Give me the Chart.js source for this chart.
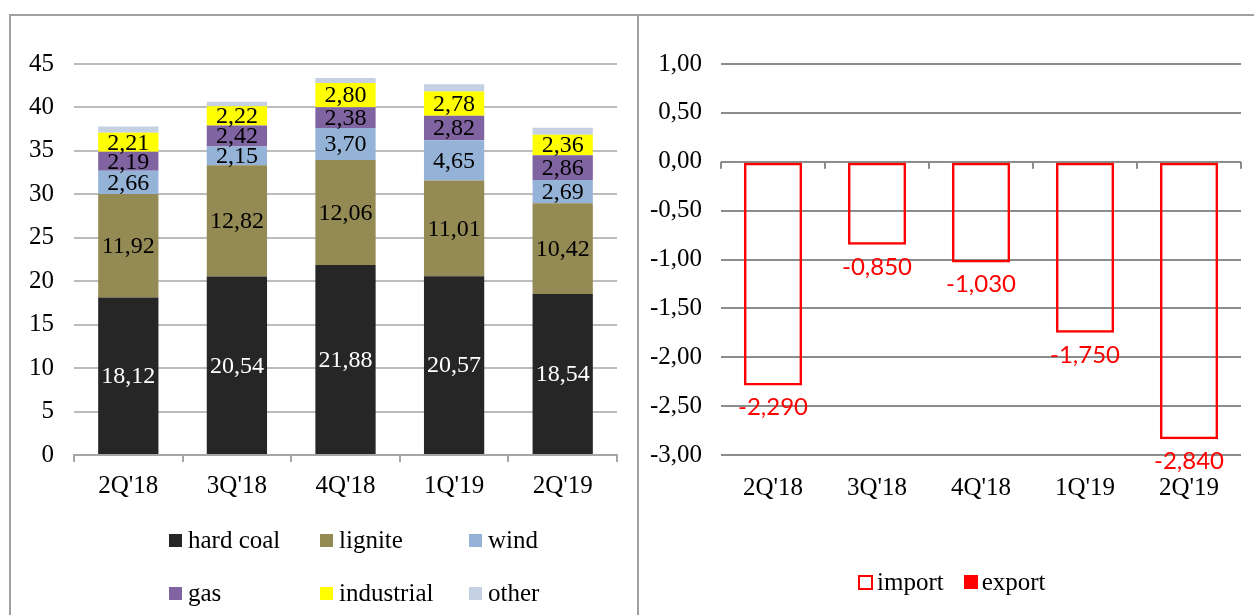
<!DOCTYPE html>
<html>
<head>
<meta charset="utf-8">
<script src="https://cdn.jsdelivr.net/npm/chart.js@4.4.1/dist/chart.umd.min.js"></script>
<style>
    body { margin: 0; background: #fff; width: 1254px; height: 615px; overflow: hidden; position: relative; }
    .marco-sup { position: absolute; left: 9px; top: 14px; width: 1245px; height: 2px; background: #a0a0a0; }
    .marco-izq { position: absolute; left: 9px; top: 14px; width: 2px; height: 601px; background: #a0a0a0; }
    .divisor { position: absolute; left: 637px; top: 14px; width: 2px; height: 601px; background: #a0a0a0; }
    #grafico1 { position: absolute; left: 10px; top: 15px; }
    #grafico2 { position: absolute; left: 640px; top: 15px; }
    .leyenda { position: absolute; font-family: "Liberation Serif", serif; font-size: 25px; color: #000; }
    .leyenda .item { display: flex; align-items: center; height: 30px; white-space: nowrap; }
    .leyenda .caja { width: 13px; height: 13px; margin-right: 6px; box-sizing: border-box; }
    #leyenda1 { left: 169px; top: 525px; display: grid; grid-template-columns: 151px 149px 150px; row-gap: 23px; }
    #leyenda2 { left: 858px; top: 567px; display: flex; }
    #leyenda2 .caja { width: 15px; height: 15px; margin-right: 4px; }
    #leyenda2 .item { margin-right: 20px; }
</style>
</head>
<body>
<div class="marco-sup"></div>
<div class="marco-izq"></div>
<div class="divisor"></div>
<canvas id="grafico1" width="628" height="600"></canvas>
<canvas id="grafico2" width="614" height="600"></canvas>
<div class="leyenda" id="leyenda1"></div>
<div class="leyenda" id="leyenda2"></div>
<script>
// Datos de los gráficos
const trimestres = ["2Q'18", "3Q'18", "4Q'18", "1Q'19", "2Q'19"];

const hardCoal   = [18.12, 20.54, 21.88, 20.57, 18.54];
const lignite    = [11.92, 12.82, 12.06, 11.01, 10.42];
const wind       = [2.66, 2.15, 3.70, 4.65, 2.69];
const gas        = [2.19, 2.42, 2.38, 2.82, 2.86];
const industrial = [2.21, 2.22, 2.80, 2.78, 2.36];
const other      = [0.70, 0.50, 0.58, 0.85, 0.80];

const importVals = [-2.29, -0.85, -1.03, -1.75, -2.84];
const exportVals = [0, 0, 0, 0, 0];

const ticksIzq = [0, 5, 10, 15, 20, 25, 30, 35, 40, 45];
const ticksDer = [1, 0.5, 0, -0.5, -1, -1.5, -2, -2.5, -3];

const fuenteSerif = 'Liberation Serif';

function coma(v, dec) {
    return v.toFixed(dec).replace('.', ',');
}

// Plugin sencillo para las etiquetas de las barras
const etiquetas = {
    id: 'etiquetas',
    afterDatasetsDraw(chart) {
        const ctx = chart.ctx;
        ctx.save();
        chart.data.datasets.forEach((ds, i) => {
            if (!ds.etiqueta) return;
            const meta = chart.getDatasetMeta(i);
            ctx.font = ds.etiqueta.font;
            ctx.fillStyle = ds.etiqueta.color;
            ctx.textAlign = 'center';
            ctx.textBaseline = 'middle';
            meta.data.forEach((bar, j) => {
                const v = ds.data[j];
                let y;
                if (ds.etiqueta.fuera) {
                    y = Math.max(bar.y, bar.base) + 22;
                } else {
                    y = (bar.y + bar.base) / 2 + 1;
                }
                ctx.fillText(coma(v, ds.etiqueta.dec), bar.x, y);
            });
        });
        ctx.restore();
    }
};

// Marcas del eje en la línea del cero (gráfico derecho)
const marcasCero = {
    id: 'marcasCero',
    afterDatasetsDraw(chart) {
        if (!chart.options.plugins.marcasCero) return;
        const ctx = chart.ctx;
        const x = chart.scales.x;
        const y0 = chart.scales.y.getPixelForValue(0);
        const paso = (x.right - x.left) / trimestres.length;
        ctx.save();
        ctx.strokeStyle = '#8c8c8c';
        ctx.lineWidth = 2;
        ctx.beginPath();
        for (let i = 0; i <= trimestres.length; i++) {
            const px = Math.round(x.left + i * paso);
            ctx.moveTo(px, y0);
            ctx.lineTo(px, y0 + 7);
        }
        ctx.stroke();
        ctx.restore();
    }
};

function serieApilada(nombre, datos, color, colorTexto) {
    return {
        label: nombre,
        data: datos,
        backgroundColor: color,
        borderWidth: 0,
        barPercentage: 0.555,
        categoryPercentage: 1,
        etiqueta: colorTexto ? { font: '24px "' + fuenteSerif + '"', color: colorTexto, dec: 2 } : null
    };
}

var seriesIzq = [
    serieApilada('hard coal', hardCoal, '#262626', '#ffffff'),
    serieApilada('lignite', lignite, '#948a54', '#000000'),
    serieApilada('wind', wind, '#95b3d7', '#000000'),
    serieApilada('gas', gas, '#8064a2', '#000000'),
    serieApilada('industrial', industrial, '#ffff00', '#000000'),
    serieApilada('other', other, '#c6d0e3', null)
];

new Chart(document.getElementById('grafico1'), {
    type: 'bar',
    data: { labels: trimestres, datasets: seriesIzq },
    plugins: [etiquetas],
    options: {
        responsive: false,
        animation: false,
        layout: { padding: { left: 0, right: 21, top: 49, bottom: 0 } },
        plugins: { legend: { display: false }, tooltip: { enabled: false } },
        scales: {
            x: {
                stacked: true,
                afterFit: function (s) { s.height = 160; },
                grid: { drawOnChartArea: false, drawTicks: true, tickLength: 7, color: '#a6a6a6', lineWidth: 2 },
                border: { display: true, color: '#a6a6a6', width: 2 },
                ticks: { color: '#000', padding: 9, font: { family: fuenteSerif, size: 25 } }
            },
            y: {
                stacked: true,
                min: 0,
                max: 45,
                afterFit: function (s) { s.width = 64; },
                afterBuildTicks: function (s) { s.ticks = ticksIzq.map(v => ({ value: v })); },
                grid: { drawTicks: false, color: '#bcbcbc', lineWidth: 2 },
                border: { display: false },
                ticks: { color: '#000', padding: 20, font: { family: fuenteSerif, size: 25 } }
            }
        }
    }
});

new Chart(document.getElementById('grafico2'), {
    type: 'bar',
    data: {
        labels: trimestres,
        datasets: [
            {
                label: 'import',
                data: importVals,
                backgroundColor: 'rgba(0,0,0,0)',
                borderColor: '#ff0000',
                borderWidth: 2.5,
                borderSkipped: false,
                barPercentage: 0.56,
                categoryPercentage: 1,
                etiqueta: { font: '24px Lato', color: '#ff0000', dec: 3, fuera: true }
            },
            {
                label: 'export',
                data: exportVals,
                backgroundColor: '#ff0000',
                borderWidth: 0,
                barPercentage: 0.56,
                categoryPercentage: 1
            }
        ]
    },
    plugins: [etiquetas, marcasCero],
    options: {
        responsive: false,
        animation: false,
        layout: { padding: { left: 0, right: 13, top: 49, bottom: 0 } },
        plugins: { legend: { display: false }, tooltip: { enabled: false }, marcasCero: true },
        scales: {
            x: {
                stacked: true,
                afterFit: function (s) { s.height = 160; },
                grid: { display: false },
                border: { display: false },
                ticks: { color: '#000', padding: 10, font: { family: fuenteSerif, size: 25 } }
            },
            y: {
                stacked: true,
                min: -3,
                max: 1,
                afterFit: function (s) { s.width = 81; },
                afterBuildTicks: function (s) { s.ticks = ticksDer.map(v => ({ value: v })); },
                grid: { drawTicks: false, color: '#8c8c8c', lineWidth: 2 },
                border: { display: false },
                ticks: {
                    color: '#000',
                    padding: 19,
                    font: { family: fuenteSerif, size: 25 },
                    callback: function (v) { return coma(v, 2); }
                }
            }
        }
    }
});

// Leyendas en HTML para colocar las columnas como en el original
function pintarLeyenda(id, items) {
    var cont = document.getElementById(id);
    cont.innerHTML = items.map(it => `
        <div class="item"><span class="caja" style="${it.estilo}"></span>${it.texto}</div>
    `).join('');
}

pintarLeyenda('leyenda1', seriesIzq.map(s => ({ texto: s.label, estilo: 'background:' + s.backgroundColor })));
pintarLeyenda('leyenda2', [
    { texto: 'import', estilo: 'border:2.5px solid #ff0000;background:#fff' },
    { texto: 'export', estilo: 'background:#ff0000;width:14px;height:14px' }
]);
</script>
</body>
</html>
